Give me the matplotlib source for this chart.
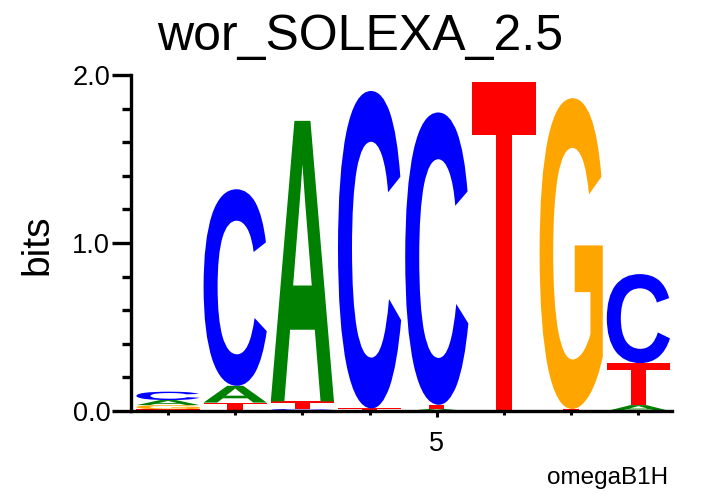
import matplotlib
matplotlib.use('Agg')
import matplotlib.pyplot as plt
from matplotlib.textpath import TextPath
from matplotlib.patches import PathPatch
from matplotlib.font_manager import FontProperties
from matplotlib.transforms import Affine2D

# sequence logo data (bits per letter at each position)
positions = [1, 2, 3, 4, 5, 6, 7, 8]
heights_A = [0.03, 0.10, 1.67, 0.0, 0.012, 0.0, 0.0, 0.035]
heights_C = [0.05, 1.17, 0.012, 1.89, 1.74, 0.0, 0.0, 0.53]
heights_G = [0.025, 0.0, 0.0, 0.0, 0.0, 0.0, 1.85, 0.0]
heights_T = [0.01, 0.05, 0.045, 0.015, 0.025, 1.96, 0.012, 0.25]

colors = {'A': '#008000', 'C': '#0000ff', 'G': '#ffa500', 'T': '#ff0000'}
letter_heights = {'A': heights_A, 'C': heights_C, 'G': heights_G, 'T': heights_T}

glyph_font = FontProperties(family='Liberation Sans', weight='bold')
text_font = 'Liberation Sans'


def draw_letter(ax, ch, x, y0, w, h):
    tp = TextPath((0, 0), ch, size=1, prop=glyph_font)
    bb = tp.get_extents()
    tr = (Affine2D().translate(-bb.x0, -bb.y0)
          .scale(w / bb.width, h / bb.height)
          .translate(x - w / 2, y0))
    path = tr.transform_path(tp)
    ax.add_patch(PathPatch(path, facecolor=colors[ch], edgecolor='none'))


fig = plt.figure(figsize=(7.21, 4.96), dpi=100)
ax = fig.add_axes([131 / 721, 1 - 411 / 496, (672 - 131) / 721, (411 - 75) / 496])

for i, pos in enumerate(positions):
    # smallest letter at the bottom of each stack
    stack = sorted(letter_heights, key=lambda k: letter_heights[k][i])
    y = 0.0
    for ch in stack:
        h = letter_heights[ch][i]
        if h <= 0:
            continue
        draw_letter(ax, ch, pos, y, 0.94, h)
        y += h

ax.set_xlim(0.45, 8.5)
ax.set_ylim(0, 2.0)

for s in ['top', 'right']:
    ax.spines[s].set_visible(False)
for s in ['left', 'bottom']:
    ax.spines[s].set_linewidth(2.4)

ax.set_yticks([0, 1, 2])
ax.set_yticklabels(['0.0', '1.0', '2.0'])
ax.set_yticks([0.2, 0.4, 0.6, 0.8, 1.2, 1.4, 1.6, 1.8], minor=True)
ax.tick_params(axis='y', which='major', length=14, width=2.4, pad=1,
               labelsize=19.5, labelfontfamily=text_font)
ax.tick_params(axis='y', which='minor', length=6.5, width=2.4)

ax.set_xticks([5])
ax.set_xticklabels(['5'])
ax.set_xticks([1, 2, 3, 4, 6, 7, 8], minor=True)
ax.tick_params(axis='x', which='major', length=4.5, width=2.2, pad=10,
               labelsize=19.5, labelfontfamily=text_font)
ax.tick_params(axis='x', which='minor', length=3, width=2.2)

fig.text(0.5, 1 - 50 / 496, 'wor_SOLEXA_2.5', ha='center', va='baseline',
         fontsize=36, family=text_font)
fig.text(37 / 721, 1 - 245 / 496, 'bits', rotation=90, ha='center', va='center',
         fontsize=28, family=text_font)
fig.text(668 / 721, 1 - 484 / 496, 'omegaB1H', ha='right', va='baseline',
         fontsize=17.5, family=text_font)

fig.savefig('out.png', dpi=100)
